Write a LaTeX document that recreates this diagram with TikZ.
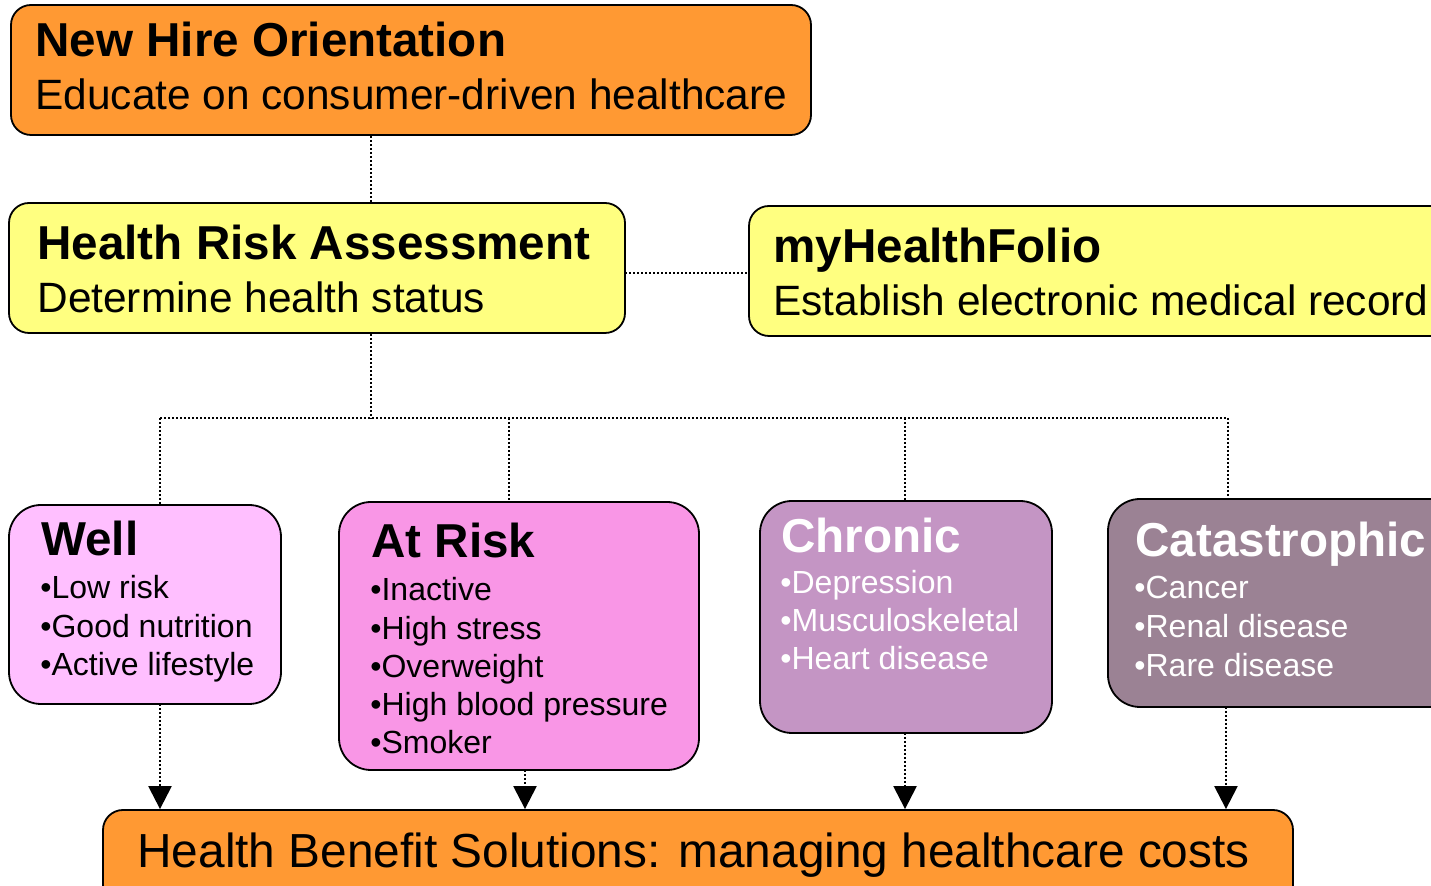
\documentclass[tikz,border=0pt]{standalone}
\usepackage{fontspec}
\setmainfont{Liberation Sans}
\usetikzlibrary{fit,arrows.meta}
\definecolor{corange}{HTML}{FF9933}
\definecolor{cyellow}{HTML}{FFFF80}
\definecolor{cwell}{HTML}{FFBFFF}
\definecolor{crisk}{HTML}{F996E6}
\definecolor{cchron}{HTML}{C495C4}
\definecolor{ccat}{HTML}{9B8294}
\tikzset{
  box/.style={draw=black, line width=0.9pt, rounded corners=10pt, inner sep=0pt},
  bigbox/.style={box, rounded corners=16pt},
  ttl/.style={anchor=base west, inner sep=0pt, font=\fontsize{23.8}{28}\selectfont\bfseries},
  sub/.style={anchor=base west, inner sep=0pt, font=\fontsize{21.2}{25}\selectfont},
  item/.style={anchor=base west, inner sep=0pt, font=\fontsize{16}{19}\selectfont},
  conn/.style={line width=1.2pt, dash pattern=on 1pt off 1pt},
  arr/.style={conn, -{Triangle[width=11.5pt,length=11.5pt]}},
}
\begin{document}
\begin{tikzpicture}[x=0.5pt,y=-0.5pt]
\useasboundingbox (0,0) rectangle (1431,886);
\clip (0,0) rectangle (1431,886);
% boxes
\node[box, fill=corange, fit={(11,5) (811,135)}] (hire) {};
\node[box, fill=cyellow, fit={(9,203) (625,333)}] (hra) {};
\node[box, fill=cyellow, fit={(749,206) (1470,336)}] (folio) {};
\node[bigbox, fill=cwell, fit={(9,505) (281,704)}] (well) {};
\node[bigbox, fill=crisk, fit={(339,502) (699,770)}] (risk) {};
\node[bigbox, fill=cchron, fit={(760,501) (1052,733)}] (chron) {};
\node[bigbox, fill=ccat, fit={(1108,499) (1470,707)}] (cat) {};
\node[box, fill=corange, fit={(103,810) (1293,920)}] (sol) {};
% texts
\node[ttl] (t-hire) at (35,57) {New Hire Orientation};
\node[sub] (s-hire) at (35,110) {Educate on consumer-driven healthcare};
\node[ttl] (t-hra) at (37,260) {Health Risk Assessment};
\node[sub] (s-hra) at (37,313) {Determine health status};
\node[ttl] (t-folio) at (773,263) {myHealthFolio};
\node[sub] (s-folio) at (773,316) {Establish electronic medical record};
\node[ttl] (t-well) at (41,556) {Well};
\node[item] (w1) at (40,599) {•Low risk};
\node[item] (w2) at (40,638) {•Good nutrition};
\node[item] (w3) at (40,676) {•Active lifestyle};
\node[ttl] (t-risk) at (371,558) {At Risk};
\node[item] (r1) at (370,601) {•Inactive};
\node[item] (r2) at (370,640) {•High stress};
\node[item] (r3) at (370,678) {•Overweight};
\node[item] (r4) at (370,716) {•High blood pressure};
\node[item] (r5) at (370,754) {•Smoker};
\node[ttl, text=white] (t-chron) at (781,553) {Chronic};
\node[item, text=white] (c1) at (780,594) {•Depression};
\node[item, text=white] (c2) at (780,632) {•Musculoskeletal};
\node[item, text=white] (c3) at (780,670) {•Heart disease};
\node[ttl, text=white] (t-cat) at (1135,557) {Catastrophic};
\node[item, text=white] (k1) at (1134,599) {•Cancer};
\node[item, text=white] (k2) at (1134,638) {•Renal disease};
\node[item, text=white] (k3) at (1134,677) {•Rare disease};
\node[anchor=base west, inner sep=0pt, font=\fontsize{23.9}{28}\selectfont] (t-sol) at (137,868) {Health Benefit Solutions: managing healthcare costs};
% connectors
\draw[conn] (hire.south -| 371,0) -- (hra.north -| 371,0);
\coordinate (hf) at (625,273);
\draw[conn] (hf) -- (hf -| folio.west);
\coordinate (bus) at (371,418);
\coordinate (jw) at (160,418);
\coordinate (jr) at (509,418);
\coordinate (jc) at (905,418);
\coordinate (jk) at (1228,418);
\draw[conn] (hra.south -| bus) -- (bus);
\draw[conn] (jw) -- (jk);
\draw[conn] (jw) -- (jw |- well.north);
\draw[conn] (jr) -- (jr |- risk.north);
\draw[conn] (jc) -- (jc |- chron.north);
\draw[conn] (jk) -- (jk |- cat.north);
\coordinate (aw) at (160,704);
\coordinate (ar) at (525,770);
\coordinate (ac) at (905,733);
\coordinate (ak) at (1226,707);
\draw[arr] (aw) -- (aw |- sol.north);
\draw[arr] (ar) -- (ar |- sol.north);
\draw[arr] (ac) -- (ac |- sol.north);
\draw[arr] (ak) -- (ak |- sol.north);
\end{tikzpicture}
\end{document}
